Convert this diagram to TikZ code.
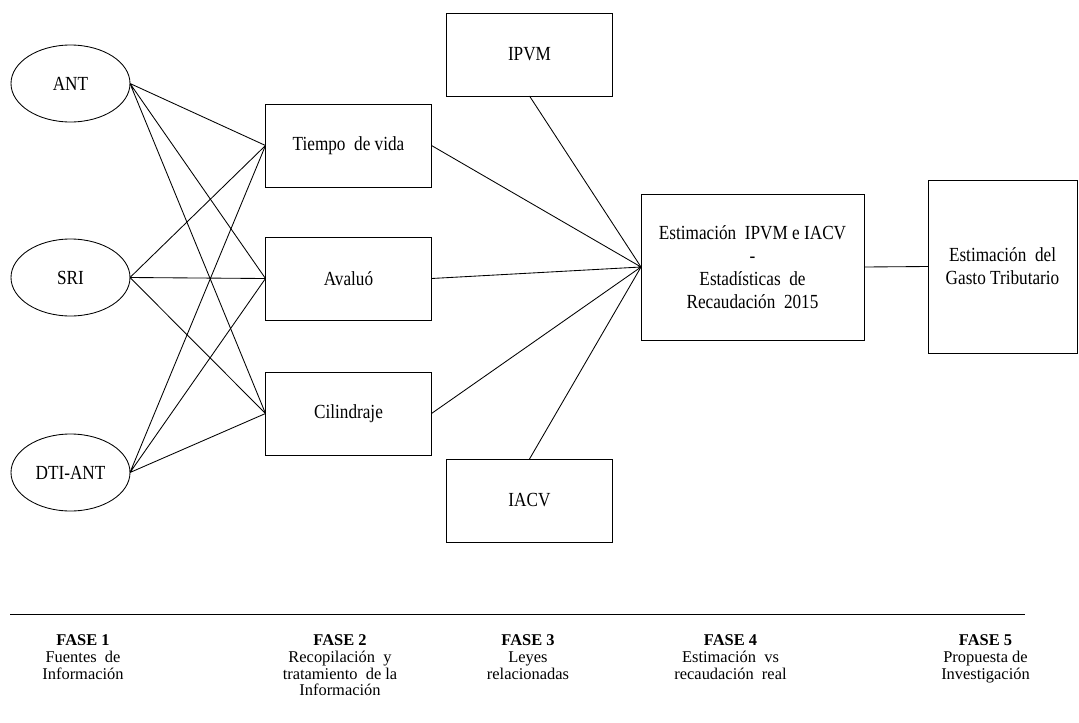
\documentclass[tikz,border=0pt]{standalone}
\usepackage{fontspec}
\setmainfont{Liberation Serif}
\newfontfamily\boxfont{Liberation Serif}[FakeStretch=0.86]
\usepackage{tikz}
\usetikzlibrary{shapes,arrows}
\usetikzlibrary{calc,positioning}
\tikzset{
        block/.style = {draw, rectangle, inner sep=0pt, outer sep=0pt,
            minimum height=58.1pt,
            minimum width=116.2pt,
            align=center, font=\boxfont\fontsize{14}{16.1}\selectfont},
        source/.style = {draw, ellipse, inner sep=0pt, outer sep=0pt,
            minimum height=53.9pt,
            minimum width=83.3pt,
            font=\boxfont\fontsize{14}{16.1}\selectfont},
        fase/.style = {anchor=north, align=center, inner sep=0pt,
            font=\fontsize{11.5}{11.8}\selectfont},
    }

\begin{document}
\begin{tikzpicture}[x=0.7pt, y=-0.7pt, line width=0.6pt]
    \useasboundingbox (0,0) rectangle (1079,722);

    % fuentes
    \node[source] at (70.5,83.5) (ant) {ANT};
    \node[source] at ($(ant) + (0,194)$) (sri) {SRI};
    \node[source] at ($(sri) + (0,195)$) (dti) {DTI-ANT};

    % variables
    \node[block] at (348.5,145.5) (tiempo) {Tiempo~ de vida};
    \node[block] at ($(tiempo) + (0,133)$) (avaluo) {Avaluó};
    \node[block] at ($(avaluo) + (0,135)$) (cilindraje) {Cilindraje};

    % leyes
    \node[block] at (529.5,54.5) (ipvm) {IPVM};
    \node[block] at ($(ipvm) + (0,446)$) (iacv) {IACV};

    \node[block, minimum width=156.1pt, minimum height=102.2pt] at (752.5,267) (estim)
        {Estimación~ IPVM e IACV\\-\\Estadísticas~ de\\Recaudación~ 2015};
    \node[block, minimum width=104.3pt, minimum height=121.1pt] at (1002.5,266.5) (gasto)
        {Estimación~ del\\Gasto Tributario};

    \draw (ant.east) -- (tiempo.west)  (ant.east) -- (avaluo.west)  (ant.east) -- (cilindraje.west);
    \draw (sri.east) -- (tiempo.west)  (sri.east) -- (avaluo.west)  (sri.east) -- (cilindraje.west);
    \draw (dti.east) -- (tiempo.west)  (dti.east) -- (avaluo.west)  (dti.east) -- (cilindraje.west);

    \draw (tiempo.east) -- (estim.west)  (avaluo.east) -- (estim.west)  (cilindraje.east) -- (estim.west);
    \draw (ipvm.south) -- (estim.west)  (iacv.north) -- (estim.west);
    \draw (estim.east) -- (gasto.west);

    % fases
    \coordinate (l1) at (10,614);
    \coordinate (l2) at (1025,614);
    \draw (l1) -- (l2);

    \node[fase] at (83,634) (f1) {\textbf{FASE 1}\\Fuentes~ de\\Información};
    \node[fase] at (340,634) (f2) {\textbf{FASE 2}\\Recopilación~ y\\tratamiento~ de la\\Información};
    \node[fase] at (528,634) (f3) {\textbf{FASE 3}\\Leyes\\relacionadas};
    \node[fase] at (730.5,634) (f4) {\textbf{FASE 4}\\Estimación~ vs\\recaudación~ real};
    \node[fase] at (985.5,634) (f5) {\textbf{FASE 5}\\Propuesta de\\Investigación};
\end{tikzpicture}
\end{document}
